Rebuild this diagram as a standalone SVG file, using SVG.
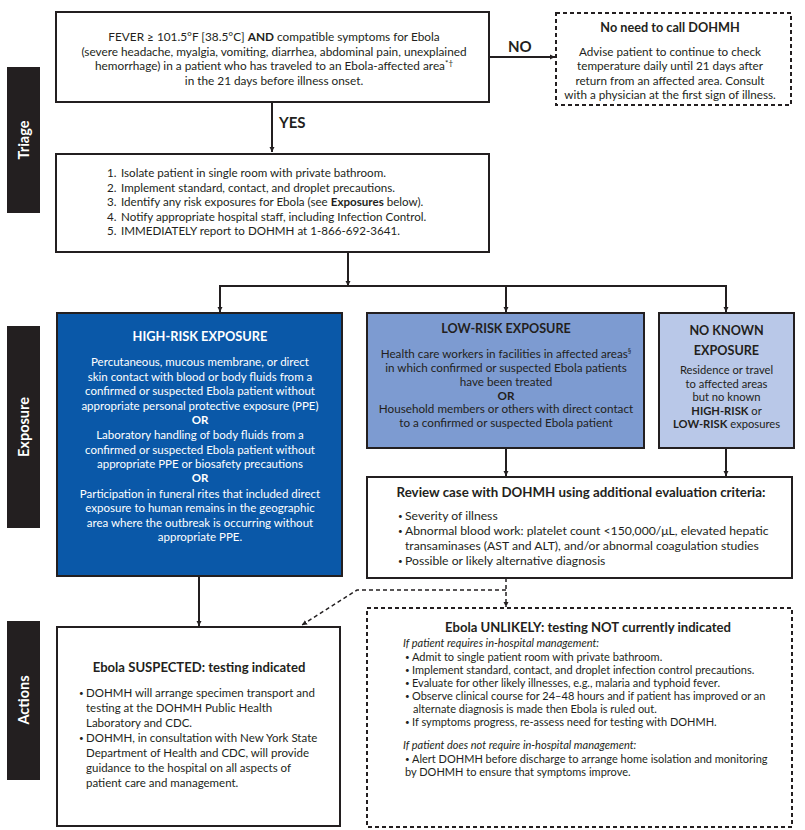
<svg xmlns="http://www.w3.org/2000/svg" width="805" height="830" viewBox="0 0 805 830" font-size="12">
<defs>
<marker id="ah" viewBox="0 0 10 10" refX="10" refY="5" markerWidth="5" markerHeight="7" markerUnits="userSpaceOnUse" orient="auto"><path d="M0,0 L10,5 L0,10 z" fill="#231f20"/></marker>
<style>
text{font-family:Lato,"Liberation Sans",sans-serif;fill:#231f20}
.c{text-anchor:middle}
.b{font-weight:bold}
.w{fill:#fff}
.i{font-style:italic}
.box{fill:#fff;stroke:#231f20;stroke-width:2}
.dbox{fill:#fff;stroke:#231f20;stroke-width:2;stroke-dasharray:4,3}
.bar{fill:#231f20}
.lab{font-size:14.5px;font-weight:bold;fill:#fff;text-anchor:middle}
.ln{fill:none;stroke:#231f20;stroke-width:2}
.dl{fill:none;stroke:#231f20;stroke-width:1.5;stroke-dasharray:4,3}
.t{font-weight:bold}
.bu{font-size:8px}
</style>
</defs>
<rect width="805" height="830" fill="#fff"/>
<g id="side-triage"><rect class="bar" x="7" y="67" width="33" height="146"/><text class="lab" transform="translate(28.5,140) rotate(-90)">Triage</text></g>
<g id="side-exposure"><rect class="bar" x="7" y="326" width="33" height="202"/><text class="lab" transform="translate(28.5,427) rotate(-90)">Exposure</text></g>
<g id="side-actions"><rect class="bar" x="7" y="621" width="33" height="159"/><text class="lab" transform="translate(28.5,700) rotate(-90)">Actions</text></g>

<g id="connectors">
<line class="ln" x1="489" y1="57" x2="555" y2="57" marker-end="url(#ah)"/>
<line class="ln" x1="272" y1="102" x2="272" y2="152" marker-end="url(#ah)"/>
<line class="ln" x1="348" y1="252" x2="348" y2="286" marker-end="url(#ah)"/>
<polyline class="ln" points="220,300 220,286 726,286 726,300"/>
<line class="ln" x1="220" y1="286" x2="220" y2="312" marker-end="url(#ah)"/>
<line class="ln" x1="506" y1="286" x2="506" y2="312" marker-end="url(#ah)"/>
<line class="ln" x1="726" y1="286" x2="726" y2="312" marker-end="url(#ah)"/>
<line class="ln" x1="506" y1="448" x2="506" y2="476" marker-end="url(#ah)"/>
<line class="ln" x1="726" y1="448" x2="726" y2="476" marker-end="url(#ah)"/>
<line class="ln" x1="199" y1="576" x2="199" y2="626" marker-end="url(#ah)"/>
<line class="dl" x1="506" y1="578" x2="506" y2="607" marker-end="url(#ah)"/>
<polyline class="dl" points="506,590 357,590 302,625" marker-end="url(#ah)"/>
<text class="b" x="508" y="52" font-size="15">NO</text>
<text class="b" x="279" y="128" font-size="15">YES</text>
</g>

<g id="n-fever" font-size="11.8">
<rect class="box" x="56" y="12" width="433" height="90"/>
<text class="c" x="274" y="41">FEVER ≥ 101.5°F [38.5°C] <tspan class="b">AND</tspan> compatible symptoms for Ebola</text>
<text class="c" x="274" y="55.5">(severe headache, myalgia, vomiting, diarrhea, abdominal pain, unexplained</text>
<text class="c" x="274" y="70">hemorrhage) in a patient who has traveled to an Ebola-affected area<tspan font-size="8" dy="-4">*†</tspan></text>
<text class="c" x="274" y="84.5">in the 21 days before illness onset.</text>
</g>

<g id="n-noneed" font-size="11.7">
<rect class="dbox" x="556" y="13" width="235" height="92"/>
<text class="c b" x="670" y="32" font-size="12.7">No need to call DOHMH</text>
<text class="c" x="670" y="56">Advise patient to continue to check</text>
<text class="c" x="670" y="70">temperature daily until 21 days after</text>
<text class="c" x="670" y="84.5">return from an affected area. Consult</text>
<text class="c" x="670" y="99">with a physician at the first sign of illness.</text>
</g>

<g id="n-steps" font-size="11.6">
<rect class="box" x="56" y="154" width="433" height="98"/>
<text x="107" y="177">1.</text><text x="121" y="177">Isolate patient in single room with private bathroom.</text>
<text x="107" y="191.5">2.</text><text x="121" y="191.5">Implement standard, contact, and droplet precautions.</text>
<text x="107" y="206">3.</text><text x="121" y="206">Identify any risk exposures for Ebola (see <tspan class="b">Exposures</tspan> below).</text>
<text x="107" y="220.5">4.</text><text x="121" y="220.5">Notify appropriate hospital staff, including Infection Control.</text>
<text x="107" y="235">5.</text><text x="121" y="235">IMMEDIATELY report to DOHMH at 1-866-692-3641.</text>
</g>

<g id="n-high" font-size="11.5">
<rect x="57" y="313" width="285" height="263" fill="#0a58a8" stroke="#231f20" stroke-width="2"/>
<text class="c w t" x="200" y="341" font-size="12.8">HIGH-RISK EXPOSURE</text>
<text class="c w" x="200" y="366">Percutaneous, mucous membrane, or direct</text>
<text class="c w" x="200" y="380.5">skin contact with blood or body fluids from a</text>
<text class="c w" x="200" y="395">confirmed or suspected Ebola patient without</text>
<text class="c w" x="200" y="409.5">appropriate personal protective exposure (PPE)</text>
<text class="c w b" x="200" y="423.5">OR</text>
<text class="c w" x="200" y="439">Laboratory handling of body fluids from a</text>
<text class="c w" x="200" y="453.5">confirmed or suspected Ebola patient without</text>
<text class="c w" x="200" y="468">appropriate PPE or biosafety precautions</text>
<text class="c w b" x="200" y="482">OR</text>
<text class="c w" x="200" y="497.5">Participation in funeral rites that included direct</text>
<text class="c w" x="200" y="512">exposure to human remains in the geographic</text>
<text class="c w" x="200" y="526.5">area where the outbreak is occurring without</text>
<text class="c w" x="200" y="541">appropriate PPE.</text>
</g>

<g id="n-low" font-size="11.7">
<rect x="367" y="313" width="277" height="135" fill="#7d9bd1" stroke="#231f20" stroke-width="2"/>
<text class="c t" x="506" y="333" font-size="12.6">LOW-RISK EXPOSURE</text>
<text class="c" x="506" y="358">Health care workers in facilities in affected areas<tspan font-size="7" dy="-4">§</tspan></text>
<text class="c" x="506" y="372">in which confirmed or suspected Ebola patients</text>
<text class="c" x="506" y="386">have been treated</text>
<text class="c b" x="506" y="399.5">OR</text>
<text class="c" x="506" y="413">Household members or others with direct contact</text>
<text class="c" x="506" y="427">to a confirmed or suspected Ebola patient</text>
</g>

<g id="n-noknown" font-size="11.2">
<rect x="659" y="313" width="135" height="135" fill="#b9c8e8" stroke="#231f20" stroke-width="2"/>
<text class="c t" x="726.5" y="335" font-size="12.6">NO KNOWN</text>
<text class="c t" x="726.5" y="355" font-size="12.6">EXPOSURE</text>
<text class="c" x="726.5" y="374">Residence or travel</text>
<text class="c" x="726.5" y="387.5">to affected areas</text>
<text class="c" x="726.5" y="401">but no known</text>
<text class="c" x="726.5" y="414.5"><tspan class="b">HIGH-RISK</tspan> or</text>
<text class="c" x="726.5" y="428"><tspan class="b">LOW-RISK</tspan> exposures</text>
</g>

<g id="n-review" font-size="12.2">
<rect class="box" x="367" y="477" width="425" height="101"/>
<text class="c t" x="581" y="497" font-size="13.3">Review case with DOHMH using additional evaluation criteria:</text>
<text class="bu" x="398" y="519">•</text><text x="405" y="520">Severity of illness</text>
<text class="bu" x="398" y="534">•</text><text x="405" y="535">Abnormal blood work: platelet count &lt;150,000/μL, elevated hepatic</text>
<text x="405" y="550">transaminases (AST and ALT), and/or abnormal coagulation studies</text>
<text class="bu" x="398" y="564">•</text><text x="405" y="565">Possible or likely alternative diagnosis</text>
</g>

<g id="n-suspected" font-size="11.5">
<rect class="box" x="57" y="627" width="283" height="199"/>
<text class="c t" x="199" y="672" font-size="13.1">Ebola SUSPECTED: testing indicated</text>
<text class="bu" x="79" y="696">•</text><text x="86" y="697">DOHMH will arrange specimen transport and</text>
<text x="86" y="712">testing at the DOHMH Public Health</text>
<text x="86" y="727">Laboratory and CDC.</text>
<text class="bu" x="79" y="741">•</text><text x="86" y="742">DOHMH, in consultation with New York State</text>
<text x="86" y="757">Department of Health and CDC, will provide</text>
<text x="86" y="772">guidance to the hospital on all aspects of</text>
<text x="86" y="787">patient care and management.</text>
</g>

<g id="n-unlikely" font-size="11">
<rect class="dbox" x="367" y="608" width="425" height="219"/>
<text class="c t" x="588" y="632" font-size="13.1">Ebola UNLIKELY: testing NOT currently indicated</text>
<text class="i" x="403" y="647">If patient requires in-hospital management:</text>
<text class="bu" x="405" y="660">•</text><text x="412" y="661">Admit to single patient room with private bathroom.</text>
<text class="bu" x="405" y="673">•</text><text x="412" y="674">Implement standard, contact, and droplet infection control precautions.</text>
<text class="bu" x="405" y="686">•</text><text x="412" y="687">Evaluate for other likely illnesses, e.g., malaria and typhoid fever.</text>
<text class="bu" x="405" y="699">•</text><text x="412" y="700">Observe clinical course for 24–48 hours and if patient has improved or an</text>
<text x="413" y="713">alternate diagnosis is made then Ebola is ruled out.</text>
<text class="bu" x="405" y="725">•</text><text x="412" y="726">If symptoms progress, re-assess need for testing with DOHMH.</text>
<text class="i" x="403" y="749">If patient does not require in-hospital management:</text>
<text class="bu" x="405" y="762">•</text><text x="412" y="763">Alert DOHMH before discharge to arrange home isolation and monitoring</text>
<text x="405" y="776">by DOHMH to ensure that symptoms improve.</text>
</g>
</svg>
